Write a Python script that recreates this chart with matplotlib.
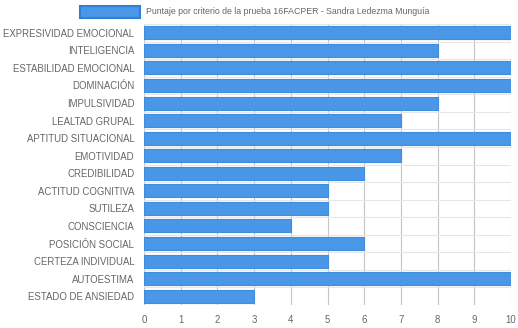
import matplotlib
matplotlib.use('Agg')
import matplotlib.pyplot as plt
from matplotlib.patches import Rectangle

# Data
categories = ['EXPRESIVIDAD EMOCIONAL', 'INTELIGENCIA', 'ESTABILIDAD EMOCIONAL',
              'DOMINACIÓN', 'IMPULSIVIDAD', 'LEALTAD GRUPAL', 'APTITUD SITUACIONAL',
              'EMOTIVIDAD', 'CREDIBILIDAD', 'ACTITUD COGNITIVA', 'SUTILEZA',
              'CONSCIENCIA', 'POSICIÓN SOCIAL', 'CERTEZA INDIVIDUAL', 'AUTOESTIMA',
              'ESTADO DE ANSIEDAD']
values = [10, 8, 10, 10, 8, 7, 10, 7, 6, 5, 5, 4, 6, 5, 10, 3]
series_label = 'Puntaje por criterio de la prueba 16FACPER - Sandra Ledezma Munguía'
x_ticks = list(range(0, 11))

plt.rcParams['font.family'] = ['Liberation Sans', 'DejaVu Sans']
text_color = '#666666'
fill = '#4a97e8'
edge = '#3f8ddf'

W, H = 518, 328
fig = plt.figure(figsize=(W / 100, H / 100), dpi=100)
ax = fig.add_axes([144 / W, 1 - 305 / H, (511 - 144) / W, (305 - 24) / H])

pos = list(range(len(categories)))
ax.barh(pos, values, height=0.74, color=fill, edgecolor=edge, linewidth=0.8, zorder=3)

ax.set_ylim(len(categories) - 0.5, -0.5)
ax.set_xlim(0, 10)
ax.set_xticks(x_ticks)
ax.set_yticks(pos)
ax.set_yticklabels(categories)
ax.tick_params(axis='both', colors=text_color, labelsize=6.9, length=0)
ax.tick_params(axis='x', pad=7)
ax.tick_params(axis='y', pad=7)

# gridlines: vertical at ticks, horizontal at category boundaries
for x in x_ticks:
    ax.axvline(x, color='#c4c4c4', linewidth=0.8, zorder=1)
for i in range(len(categories) + 1):
    ax.axhline(i - 0.5, color='#e6e6e6', linewidth=0.8, zorder=1)

for s in ax.spines.values():
    s.set_visible(False)

# legend (Chart.js style, centered on top)
fig.patches.append(Rectangle((80 / W, 1 - 18 / H), 60 / W, 12 / H, transform=fig.transFigure,
                             facecolor=fill, edgecolor='#2f7fd6', linewidth=1.5))
fig.text(146 / W, 1 - 12 / H, series_label, fontsize=6.3, color=text_color, va='center', ha='left')

fig.savefig('out.png', dpi=100)
